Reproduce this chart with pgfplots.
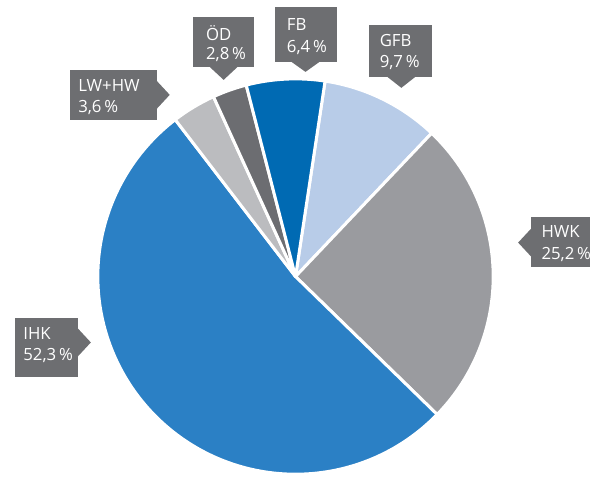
\documentclass[border=0pt]{standalone}
\usepackage{pgfplots}
\usepackage{pgfplotstable}
\pgfplotsset{compat=1.18}
\usepackage{fontspec}
\setmainfont{Open Sans}
\definecolor{cGFB}{HTML}{B8CCE8}
\definecolor{cHWK}{HTML}{9A9B9F}
\definecolor{cIHK}{HTML}{2B80C5}
\definecolor{cLW}{HTML}{BBBCBF}
\definecolor{cOD}{HTML}{6C6D71}
\definecolor{cFB}{HTML}{006AB3}
\definecolor{boxgrey}{HTML}{6D6E71}
\pgfplotstableread{
label value color
GFB 9.7 cGFB
HWK 25.2 cHWK
IHK 52.3 cIHK
LWHW 3.6 cLW
OD 2.8 cOD
FB 6.4 cFB
}\piedata
% label boxes: x0 y0 x1 y1 (pixel coords, y downward), tip position
\newcommand{\labelbox}[8]{% x0,y0,x1,y1,dir,tip-x,tip-y, unused
}
\begin{document}
\begin{tikzpicture}
\begin{axis}[
  scale only axis, width=295.5pt, height=239pt,
  xmin=0, xmax=591, ymin=0, ymax=478,
  hide axis, clip=false,
]
\path (axis cs:0,0) rectangle (axis cs:591,478);
\xdef\cum{81.4}
\pgfplotsinvokeforeach{0,...,5}{
  \pgfplotstablegetelem{#1}{value}\of\piedata \let\v=\pgfplotsretval
  \pgfplotstablegetelem{#1}{color}\of\piedata \let\c=\pgfplotsretval
  \pgfmathsetmacro\endang{\cum-3.6*\v}
  \edef\tmp{\noexpand\fill[\c, draw=white, line width=1.5pt, line join=round] (axis cs:296,201) -- ++(\cum:99pt) arc[start angle=\cum, end angle=\endang, radius=99pt] -- cycle;}
  \tmp
  \xdef\cum{\endang}
}
% boxes (y = 478 - pixel y)
% OeD
\fill[boxgrey] (axis cs:193,461) rectangle (axis cs:254,411);
\fill[boxgrey] (axis cs:210,411) -- (axis cs:224,398) -- (axis cs:238,411) -- cycle;
\node[anchor=base west, text=white, font=\fontsize{8.4}{10}\selectfont, inner sep=0pt] at (axis cs:206,437) {ÖD};
\node[anchor=base west, text=white, font=\fontsize{8.4}{10}\selectfont, inner sep=0pt] at (axis cs:206,418) {2,8\,\%};
% LW+HW
\fill[boxgrey] (axis cs:70,408) rectangle (axis cs:157,358);
\fill[boxgrey] (axis cs:157,397) -- (axis cs:170,383) -- (axis cs:157,369) -- cycle;
\node[anchor=base west, text=white, font=\fontsize{8.4}{10}\selectfont, inner sep=0pt] at (axis cs:78,386) {LW+HW};
\node[anchor=base west, text=white, font=\fontsize{8.4}{10}\selectfont, inner sep=0pt] at (axis cs:78,365) {3,6\,\%};
% FB
\fill[boxgrey] (axis cs:275,471) rectangle (axis cs:338,416);
\fill[boxgrey] (axis cs:292,416) -- (axis cs:306,406) -- (axis cs:320,416) -- cycle;
\node[anchor=base west, text=white, font=\fontsize{8.4}{10}\selectfont, inner sep=0pt] at (axis cs:287,447) {FB};
\node[anchor=base west, text=white, font=\fontsize{8.4}{10}\selectfont, inner sep=0pt] at (axis cs:287,425) {6,4\,\%};
% GFB
\fill[boxgrey] (axis cs:370,453) rectangle (axis cs:433,401);
\fill[boxgrey] (axis cs:388,401) -- (axis cs:402,390) -- (axis cs:416,401) -- cycle;
\node[anchor=base west, text=white, font=\fontsize{8.4}{10}\selectfont, inner sep=0pt] at (axis cs:380,431) {GFB};
\node[anchor=base west, text=white, font=\fontsize{8.4}{10}\selectfont, inner sep=0pt] at (axis cs:380,410) {9,7\,\%};
% HWK
\fill[boxgrey] (axis cs:532,261) rectangle (axis cs:591,211);
\fill[boxgrey] (axis cs:532,249) -- (axis cs:519,235) -- (axis cs:532,221) -- cycle;
\node[anchor=base west, text=white, font=\fontsize{8.4}{10}\selectfont, inner sep=0pt] at (axis cs:542,240) {HWK};
\node[anchor=base west, text=white, font=\fontsize{8.4}{10}\selectfont, inner sep=0pt] at (axis cs:542,218) {25,2\,\%};
% IHK
\fill[boxgrey] (axis cs:15,159) rectangle (axis cs:78,100);
\fill[boxgrey] (axis cs:78,149) -- (axis cs:91,135) -- (axis cs:78,121) -- cycle;
\node[anchor=base west, text=white, font=\fontsize{8.4}{10}\selectfont, inner sep=0pt] at (axis cs:23,138) {IHK};
\node[anchor=base west, text=white, font=\fontsize{8.4}{10}\selectfont, inner sep=0pt] at (axis cs:23,117) {52,3\,\%};
\end{axis}
\end{tikzpicture}
\end{document}
